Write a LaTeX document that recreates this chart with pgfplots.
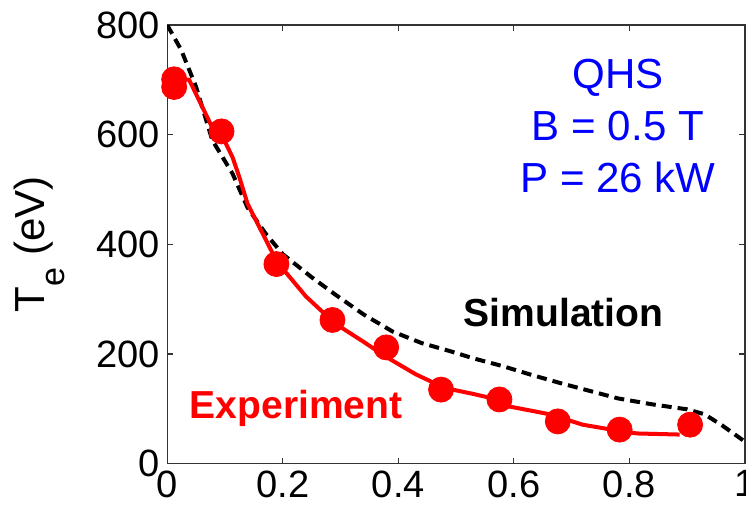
\documentclass[border=0pt]{standalone}
\usepackage{pgfplots}
\pgfplotsset{compat=1.18}
\usepackage{fontspec}
\setmainfont{Liberation Sans}

\begin{document}
\begin{tikzpicture}
% the reference is cropped tightly round the axis box
\path[use as bounding box] (-83.5pt,-22pt) rectangle (289pt,231.5pt);
\begin{axis}[
  scale only axis, width=288.5pt, height=219pt,
  xmin=0, xmax=1, ymin=0, ymax=800,
  xtick={0,0.2,0.4,0.6,0.8,1}, ytick={0,200,400,600,800},
  tick align=inside, major tick length=3pt,
  axis line style={black!80, line width=0.6pt},
  tick style={black!80, line width=0.6pt},
  ticklabel style={font=\fontsize{19}{19}\selectfont},
  /pgf/number format/assume math mode=true,
  ylabel={T\raisebox{-10pt}{\fontsize{17}{17}\selectfont e} (eV)},
  ylabel style={at={(axis description cs:-0.2206,0.5)}, anchor=center,
    font=\fontsize{21}{21}\selectfont},
]
% simulation
\addplot[black, line width=2pt, dash pattern=on 5pt off 3pt] coordinates {
  (0,800) (0.024,755) (0.05,687) (0.078,590) (0.113,529) (0.139,467)
  (0.17,420) (0.2,382) (0.25,340) (0.29,309) (0.34,272) (0.39,241)
  (0.44,220) (0.49,205) (0.53,192) (0.58,178) (0.63,162) (0.68,147)
  (0.73,133) (0.78,119) (0.84,108) (0.9,99) (0.93,90) (0.96,70) (1.0,40)
};
% experiment fit
\addplot[red, line width=2pt] coordinates {
  (0.005,705) (0.038,700) (0.055,663) (0.078,613) (0.094,600) (0.113,559)
  (0.125,522) (0.139,474) (0.165,420) (0.19,368) (0.24,305) (0.29,256)
  (0.34,222) (0.38,194) (0.43,163) (0.48,138) (0.53,127) (0.575,116)
  (0.593,104) (0.662,90) (0.719,71) (0.78,60) (0.813,55) (0.887,53)
};
% experiment points
\addplot[only marks, mark=*, mark size=6.25pt, red, fill=red] coordinates {
  (0.012,701) (0.012,687) (0.094,606) (0.189,364) (0.286,262) (0.379,212)
  (0.474,135) (0.575,117) (0.676,77) (0.783,62) (0.905,71)
};
\node[anchor=base, font=\fontsize{19.5}{19.5}\selectfont\bfseries] at (axis cs:0.686,251) {Simulation};
\node[anchor=base, red, font=\fontsize{19.5}{19.5}\selectfont\bfseries] at (axis cs:0.223,82) {Experiment};
\node[anchor=base, blue, font=\fontsize{21}{21}\selectfont] at (axis cs:0.78,685) {QHS};
\node[anchor=base, blue, font=\fontsize{21}{21}\selectfont] at (axis cs:0.78,590) {B = 0.5 T};
\node[anchor=base, blue, font=\fontsize{21}{21}\selectfont] at (axis cs:0.78,495) {P = 26 kW};
\end{axis}
\end{tikzpicture}
\end{document}
